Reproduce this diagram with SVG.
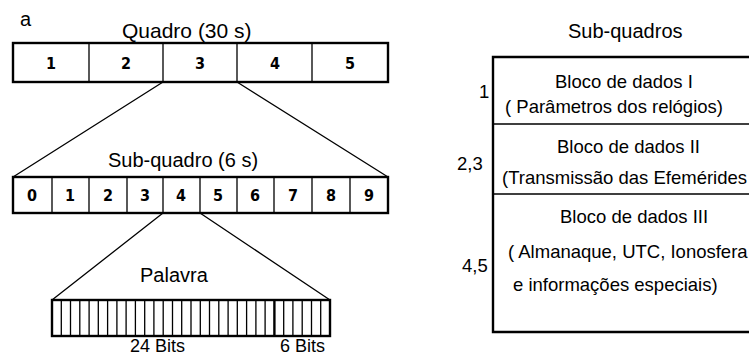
<svg xmlns="http://www.w3.org/2000/svg" width="749" height="357" viewBox="0 0 749 357">
<style>
.lbl{font-family:"Liberation Sans",Arial,sans-serif;fill:#000}
.big{font-size:20px}
.r{font-size:18.5px}
.num{font-family:"DejaVu Sans Condensed","Liberation Sans",sans-serif;font-size:16px;font-weight:bold;fill:#000;text-anchor:middle}
.box{fill:#fff;stroke:#000;stroke-width:2.4}
.div{stroke:#000;stroke-width:1.3;fill:none}
.con{stroke:#000;stroke-width:1.3;fill:none}
</style>
<rect width="749" height="357" fill="#fff"/>
<text class="lbl big" x="20" y="26">a</text>

<g id="frame">
<text class="lbl" x="122" y="38" font-size="21">Quadro (30 s)</text>
<rect class="box" x="13" y="43" width="375" height="39"/>
<path class="div" d="M89 43V82M163 43V82M237 43V82M312 43V82"/>
<text class="num" x="51" y="69">1</text>
<text class="num" x="126" y="69">2</text>
<text class="num" x="200" y="69">3</text>
<text class="num" x="275" y="69">4</text>
<text class="num" x="350" y="69">5</text>
</g>

<g id="subframe">
<text class="lbl big" x="108" y="167">Sub-quadro (6 s)</text>
<rect class="box" x="13" y="177" width="375" height="36"/>
<path class="div" d="M52 177V213M89 177V213M127 177V213M163 177V213M200 177V213M237 177V213M274 177V213M312 177V213M350 177V213"/>
<text class="num" x="32" y="201">0</text>
<text class="num" x="70" y="201">1</text>
<text class="num" x="108" y="201">2</text>
<text class="num" x="145" y="201">3</text>
<text class="num" x="181" y="201">4</text>
<text class="num" x="218" y="201">5</text>
<text class="num" x="255" y="201">6</text>
<text class="num" x="293" y="201">7</text>
<text class="num" x="331" y="201">8</text>
<text class="num" x="369" y="201">9</text>
</g>

<g id="word">
<text class="lbl big" x="140" y="282">Palavra</text>
<rect class="box" x="52" y="300" width="278" height="36"/>
<path class="div" d="M61.3 300V336M70.5 300V336M79.8 300V336M89.1 300V336M98.3 300V336M107.6 300V336M116.9 300V336M126.1 300V336M135.4 300V336M144.7 300V336M153.9 300V336M163.2 300V336M172.5 300V336M181.7 300V336M191 300V336M200.3 300V336M209.5 300V336M218.8 300V336M228.1 300V336M237.3 300V336M246.6 300V336M255.9 300V336M265.1 300V336M283.7 300V336M292.9 300V336M302.2 300V336M311.5 300V336M320.7 300V336"/>
<path d="M274.4 300V336" stroke="#000" stroke-width="2.4"/>
<text class="lbl" x="130" y="352" font-size="18">24 Bits</text>
<text class="lbl" x="280" y="352" font-size="18">6 Bits</text>
</g>

<g id="subframes-table">
<text class="lbl" x="568" y="38" font-size="20">Sub-quadros</text>
<path d="M760 57H493V332H760" fill="#fff" stroke="#000" stroke-width="2.4"/>
<path d="M493 124H760M493 194H760" stroke="#000" stroke-width="1.6"/>
<text class="lbl r" x="479" y="98">1</text>
<text class="lbl r" x="457" y="170">2,3</text>
<text class="lbl r" x="462" y="272">4,5</text>
<text class="lbl r" x="555" y="88">Bloco de dados I</text>
<text class="lbl r" x="505" y="113">( Parâmetros dos relógios)</text>
<text class="lbl r" x="557" y="153">Bloco de dados II</text>
<text class="lbl r" x="502" y="184">(Transmissão das Efemérides</text>
<text class="lbl r" x="560" y="223">Bloco de dados III</text>
<text class="lbl r" x="508" y="258">( Almanaque,  UTC, Ionosfera</text>
<text class="lbl r" x="513" y="291">e informações  especiais)</text>
</g>

<g id="connectors">
<path class="con" d="M163 82L13 177M237 82L388 177"/>
<path class="con" d="M163 213L52 300M200 213L330 300"/>
</g>
</svg>
